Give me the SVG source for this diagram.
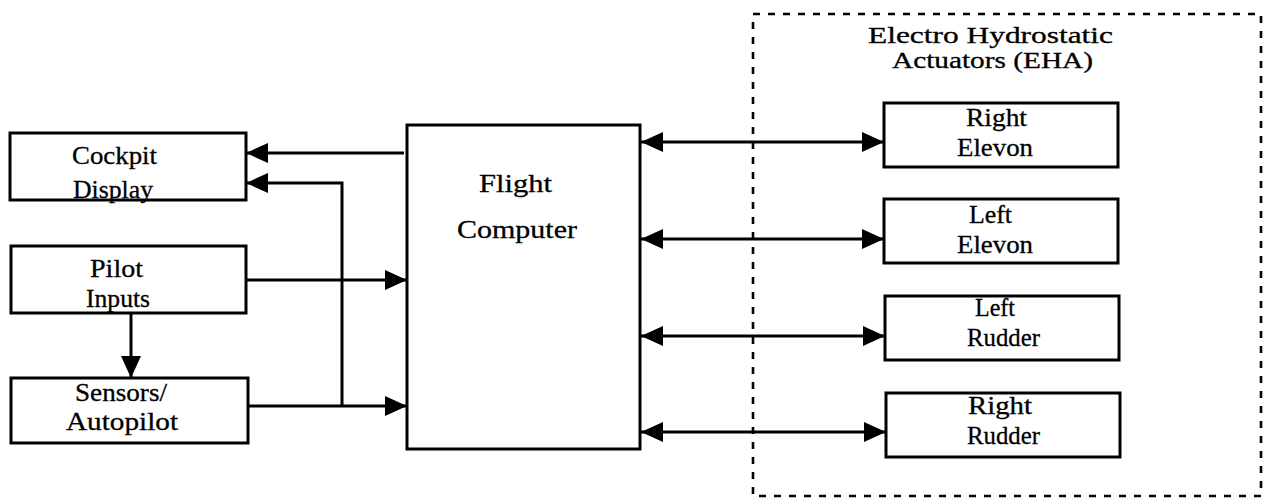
<svg xmlns="http://www.w3.org/2000/svg" width="1267" height="499" viewBox="0 0 1267 499">
<style>
  .box { fill: #fff; stroke: #000; stroke-width: 3; }
  .lbl { font-family: "Liberation Serif", "Times New Roman", serif; font-size: 26px; fill: #000; stroke: #000; stroke-width: 0.3; }
  .ttl { font-family: "Liberation Serif", "Times New Roman", serif; font-size: 22.5px; fill: #000; stroke: #000; stroke-width: 0.3; }
  .conn { stroke: #000; stroke-width: 3; fill: none; }
  .dash { stroke: #000; stroke-width: 2.6; fill: none; stroke-dasharray: 7 8; }
</style>
<defs>
  <marker id="ah" markerUnits="userSpaceOnUse" markerWidth="22" markerHeight="20" refX="22" refY="10" orient="auto-start-reverse" viewBox="0 0 22 20">
    <path d="M0,0 L22,10 L0,20 z" fill="#000"/>
  </marker>
</defs>
<rect width="1267" height="499" fill="#fff"/>

<g id="eha-group">
  <rect class="dash" x="753" y="14" width="508" height="482"/>
  <text class="ttl"><tspan x="868" y="43" textLength="245" lengthAdjust="spacingAndGlyphs">Electro Hydrostatic</tspan><tspan x="892" y="68" textLength="201" lengthAdjust="spacingAndGlyphs">Actuators (EHA)</tspan></text>
</g>

<g id="connectors">
  <line class="conn" x1="404" y1="153" x2="246" y2="153" marker-end="url(#ah)"/>
  <polyline class="conn" points="342,406 342,183 246,183" marker-end="url(#ah)"/>
  <line class="conn" x1="246" y1="280" x2="407" y2="280" marker-end="url(#ah)"/>
  <line class="conn" x1="248" y1="406" x2="407" y2="406" marker-end="url(#ah)"/>
  <line class="conn" x1="131" y1="313" x2="131" y2="378" marker-end="url(#ah)"/>
  <line class="conn" x1="641" y1="142" x2="884" y2="142" marker-start="url(#ah)" marker-end="url(#ah)"/>
  <line class="conn" x1="641" y1="239" x2="884" y2="239" marker-start="url(#ah)" marker-end="url(#ah)"/>
  <line class="conn" x1="641" y1="336" x2="885" y2="336" marker-start="url(#ah)" marker-end="url(#ah)"/>
  <line class="conn" x1="641" y1="432" x2="886" y2="432" marker-start="url(#ah)" marker-end="url(#ah)"/>
</g>

<g id="cockpit-display">
  <rect class="box" x="10" y="133" width="236" height="67"/>
  <text class="lbl"><tspan x="72" y="164" textLength="85" lengthAdjust="spacingAndGlyphs">Cockpit</tspan><tspan x="73" y="198" textLength="80" lengthAdjust="spacingAndGlyphs">Display</tspan></text>
</g>

<g id="pilot-inputs">
  <rect class="box" x="11" y="246" width="235" height="67"/>
  <text class="lbl"><tspan x="90" y="277" textLength="53" lengthAdjust="spacingAndGlyphs">Pilot</tspan><tspan x="86" y="307" textLength="64" lengthAdjust="spacingAndGlyphs">Inputs</tspan></text>
</g>

<g id="sensors-autopilot">
  <rect class="box" x="11" y="378" width="237" height="65"/>
  <text class="lbl"><tspan x="75" y="401" textLength="92" lengthAdjust="spacingAndGlyphs">Sensors/</tspan><tspan x="66" y="430" textLength="112" lengthAdjust="spacingAndGlyphs">Autopilot</tspan></text>
</g>

<g id="flight-computer">
  <rect class="box" x="407" y="125" width="233" height="324"/>
  <text class="lbl"><tspan x="479" y="192" textLength="73" lengthAdjust="spacingAndGlyphs">Flight</tspan><tspan x="457" y="238" textLength="120" lengthAdjust="spacingAndGlyphs">Computer</tspan></text>
</g>

<g id="right-elevon">
  <rect class="box" x="884" y="103" width="234" height="64"/>
  <text class="lbl"><tspan x="966" y="126" textLength="61" lengthAdjust="spacingAndGlyphs">Right</tspan><tspan x="957" y="156" textLength="76" lengthAdjust="spacingAndGlyphs">Elevon</tspan></text>
</g>

<g id="left-elevon">
  <rect class="box" x="884" y="199" width="234" height="64"/>
  <text class="lbl"><tspan x="969" y="223" textLength="43" lengthAdjust="spacingAndGlyphs">Left</tspan><tspan x="957" y="253" textLength="76" lengthAdjust="spacingAndGlyphs">Elevon</tspan></text>
</g>

<g id="left-rudder">
  <rect class="box" x="885" y="296" width="234" height="64"/>
  <text class="lbl"><tspan x="975" y="316" textLength="40" lengthAdjust="spacingAndGlyphs">Left</tspan><tspan x="967" y="346" textLength="73" lengthAdjust="spacingAndGlyphs">Rudder</tspan></text>
</g>

<g id="right-rudder">
  <rect class="box" x="886" y="393" width="234" height="64"/>
  <text class="lbl"><tspan x="968" y="414" textLength="64" lengthAdjust="spacingAndGlyphs">Right</tspan><tspan x="967" y="444" textLength="73" lengthAdjust="spacingAndGlyphs">Rudder</tspan></text>
</g>
</svg>
